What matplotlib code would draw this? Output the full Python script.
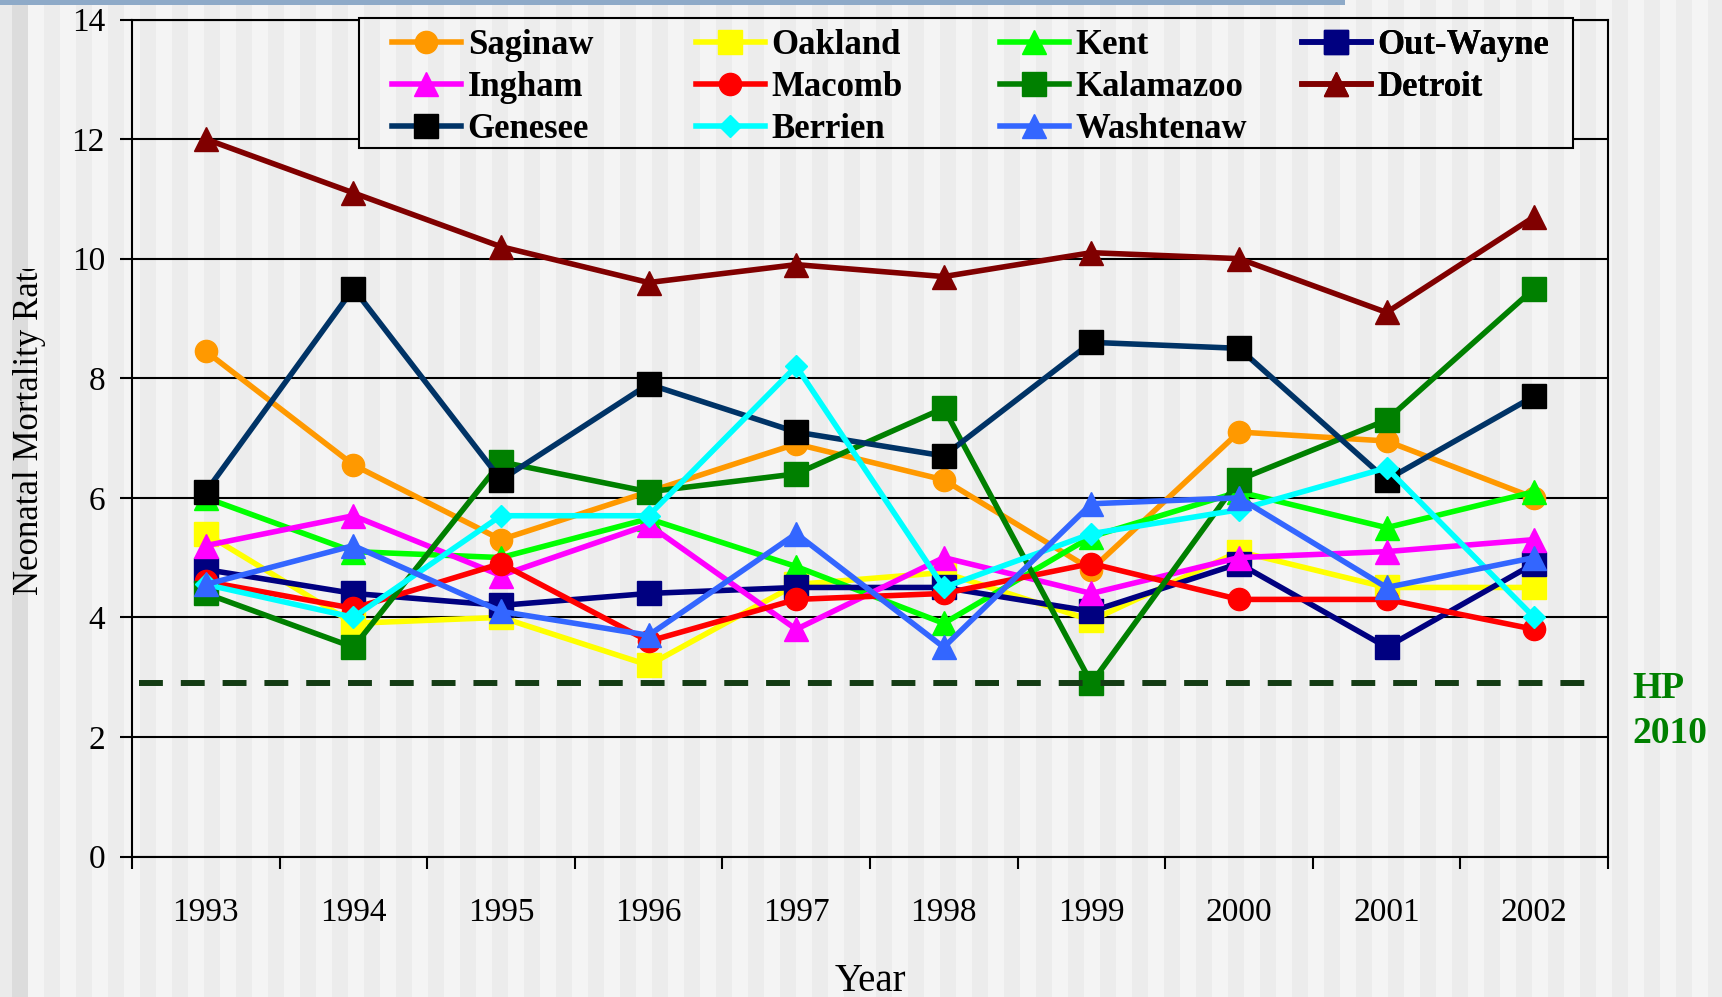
import numpy as np
import matplotlib
matplotlib.use("Agg")
import matplotlib.pyplot as plt
from matplotlib.patches import Rectangle
from matplotlib.transforms import Bbox, TransformedBbox

years = ['1993', '1994', '1995', '1996', '1997', '1998', '1999', '2000', '2001', '2002']

saginaw = [8.45, 6.55, 5.3, 6.1, 6.9, 6.3, 4.8, 7.1, 6.95, 6.0]
oakland = [5.4, 3.9, 4.0, 3.2, 4.55, 4.75, 3.95, 5.1, 4.5, 4.5]
kent = [6.0, 5.1, 5.0, 5.65, 4.85, 3.9, 5.35, 6.1, 5.5, 6.1]
out_wayne = [4.8, 4.4, 4.2, 4.4, 4.5, 4.5, 4.1, 4.9, 3.5, 4.9]
ingham = [5.2, 5.7, 4.7, 5.55, 3.8, 5.0, 4.4, 5.0, 5.1, 5.3]
macomb = [4.6, 4.15, 4.9, 3.6, 4.3, 4.4, 4.9, 4.3, 4.3, 3.8]
kalamazoo = [4.4, 3.5, 6.6, 6.1, 6.4, 7.5, 2.9, 6.3, 7.3, 9.5]
detroit = [12.0, 11.1, 10.2, 9.6, 9.9, 9.7, 10.1, 10.0, 9.1, 10.7]
genesee = [6.1, 9.5, 6.3, 7.9, 7.1, 6.7, 8.6, 8.5, 6.3, 7.7]
berrien = [4.55, 4.0, 5.7, 5.7, 8.2, 4.5, 5.4, 5.8, 6.5, 4.0]
washtenaw = [4.55, 5.2, 4.1, 3.7, 5.4, 3.5, 5.9, 6.0, 4.5, 5.0]

hp_target = 2.9

# name, values, line colour, marker, marker colour, marker size
series = [
    ('Saginaw', saginaw, '#FF9900', 'o', '#FF9900', 16),
    ('Oakland', oakland, '#FFFF00', 's', '#FFFF00', 17),
    ('Kent', kent, '#00FF00', '^', '#00FF00', 17),
    ('Out-Wayne', out_wayne, '#000080', 's', '#000080', 17),
    ('Ingham', ingham, '#FF00FF', '^', '#FF00FF', 17),
    ('Macomb', macomb, '#FF0000', 'o', '#FF0000', 16),
    ('Kalamazoo', kalamazoo, '#008000', 's', '#008000', 17),
    ('Detroit', detroit, '#800000', '^', '#800000', 17),
    ('Genesee', genesee, '#003366', 's', '#000000', 17),
    ('Berrien', berrien, '#00FFFF', 'D', '#00FFFF', 11.5),
    ('Washtenaw', washtenaw, '#3366FF', '^', '#3366FF', 17),
]

legend_columns = [
    ['Saginaw', 'Ingham', 'Genesee'],
    ['Oakland', 'Macomb', 'Berrien'],
    ['Kent', 'Kalamazoo', 'Washtenaw'],
    ['Out-Wayne', 'Detroit'],
]

plt.rcParams['font.family'] = ['Liberation Serif', 'DejaVu Serif']

W, H = 1722, 997
fig = plt.figure(figsize=(W / 100, H / 100), dpi=100)


def stripes():
    # slide background: light vertical bands
    x = np.arange(W)
    g = np.where(((x - 28) // 16) % 2 == 0, 0xf4, 0xec).astype(float)
    g[x < 28] = 0xdc
    g[x < 12] = 0xeb
    g = g / 255.0
    return np.repeat(g[None, :, None], 3, axis=2)


bg_ax = fig.add_axes([0, 0, 1, 1], zorder=-10)
bg_ax.imshow(stripes(), aspect='auto', extent=(0, 1, 0, 1), interpolation='nearest')
bg_ax.add_patch(Rectangle((0, 1 - 5 / H), 1345 / W, 5 / H, color='#8eaac8', lw=0))
bg_ax.set_xlim(0, 1)
bg_ax.set_ylim(0, 1)
bg_ax.axis('off')

ax = fig.add_axes([132 / W, 1 - 856.5 / H, 1476 / W, 837 / H])
ax.patch.set_alpha(0)

x = np.arange(len(years))
lines = {}
for name, vals, color, marker, mcolor, ms in series:
    ln, = ax.plot(x, vals, color=color, lw=4, marker=marker, markersize=ms,
                  markerfacecolor=mcolor, markeredgecolor=mcolor, markeredgewidth=1,
                  label=name)
    lines[name] = ln

ax.axhline(hp_target, xmin=0.005, xmax=0.988, color='#143c14', lw=4.3, dashes=(4, 3))

ax.set_xlim(-0.5, len(years) - 0.5)
ax.set_ylim(0, 14)
ax.set_yticks(range(0, 15, 2))
ax.set_xticks(x, years)
ax.set_xticks(np.arange(-0.5, len(years), 1), minor=True)
ax.tick_params(axis='x', which='major', length=0, pad=29.5, labelsize=24)
ax.tick_params(axis='x', which='minor', length=8.5, width=1.5, direction='out')
ax.tick_params(axis='y', length=8.5, width=1.5, pad=11, labelsize=24)
ax.grid(axis='y', color='black', lw=1.5)
ax.set_axisbelow(True)
for s in ax.spines.values():
    s.set_linewidth(1.5)
    s.set_color('black')

ylab = fig.text(0.0174, 0.573, 'Neonatal Mortality Rate', rotation=90,
                ha='center', va='center', fontsize=25)
ylab.set_clip_box(TransformedBbox(Bbox.from_extents(0, 0, 1, 1 - 269 / H), fig.transFigure))
ylab.set_clip_on(True)

fig.text(870 / W, 6 / H, 'Year', ha='center', va='baseline', fontsize=28)

fig.text(1632 / W, 1 - 698 / H, 'HP', color='#008000', fontsize=27,
         fontweight='bold', va='baseline')
fig.text(1632 / W, 1 - 743 / H, '2010', color='#008000', fontsize=27,
         fontweight='bold', va='baseline')

# legend box on top, with the same striped background inside
top_ax = fig.add_axes([0, 0, 1, 1], zorder=5)
top_ax.set_xlim(0, 1)
top_ax.set_ylim(0, 1)
top_ax.axis('off')
box = (359 / W, 1 - 148 / H, (1573 - 359) / W, 130 / H)
im = top_ax.imshow(stripes(), aspect='auto', extent=(0, 1, 0, 1), interpolation='nearest')
clip_rect = Rectangle(box[:2], box[2], box[3], transform=top_ax.transAxes)
im.set_clip_path(clip_rect)
top_ax.add_patch(Rectangle(box[:2], box[2], box[3], fill=False, edgecolor='black', lw=1.5))

col_x = [392, 696, 1000, 1302]
for cx, names in zip(col_x, legend_columns):
    leg = top_ax.legend([lines[n] for n in names], names, loc='upper left',
                        bbox_to_anchor=(cx / W, 1 - 29.5 / H), bbox_transform=fig.transFigure,
                        frameon=False, borderpad=0, borderaxespad=0, handlelength=1.98,
                        handletextpad=0.2, labelspacing=0.25, numpoints=1,
                        prop={'family': 'Liberation Serif', 'weight': 'bold', 'size': 25})
    top_ax.add_artist(leg)

fig.savefig('out.png', dpi=100)
